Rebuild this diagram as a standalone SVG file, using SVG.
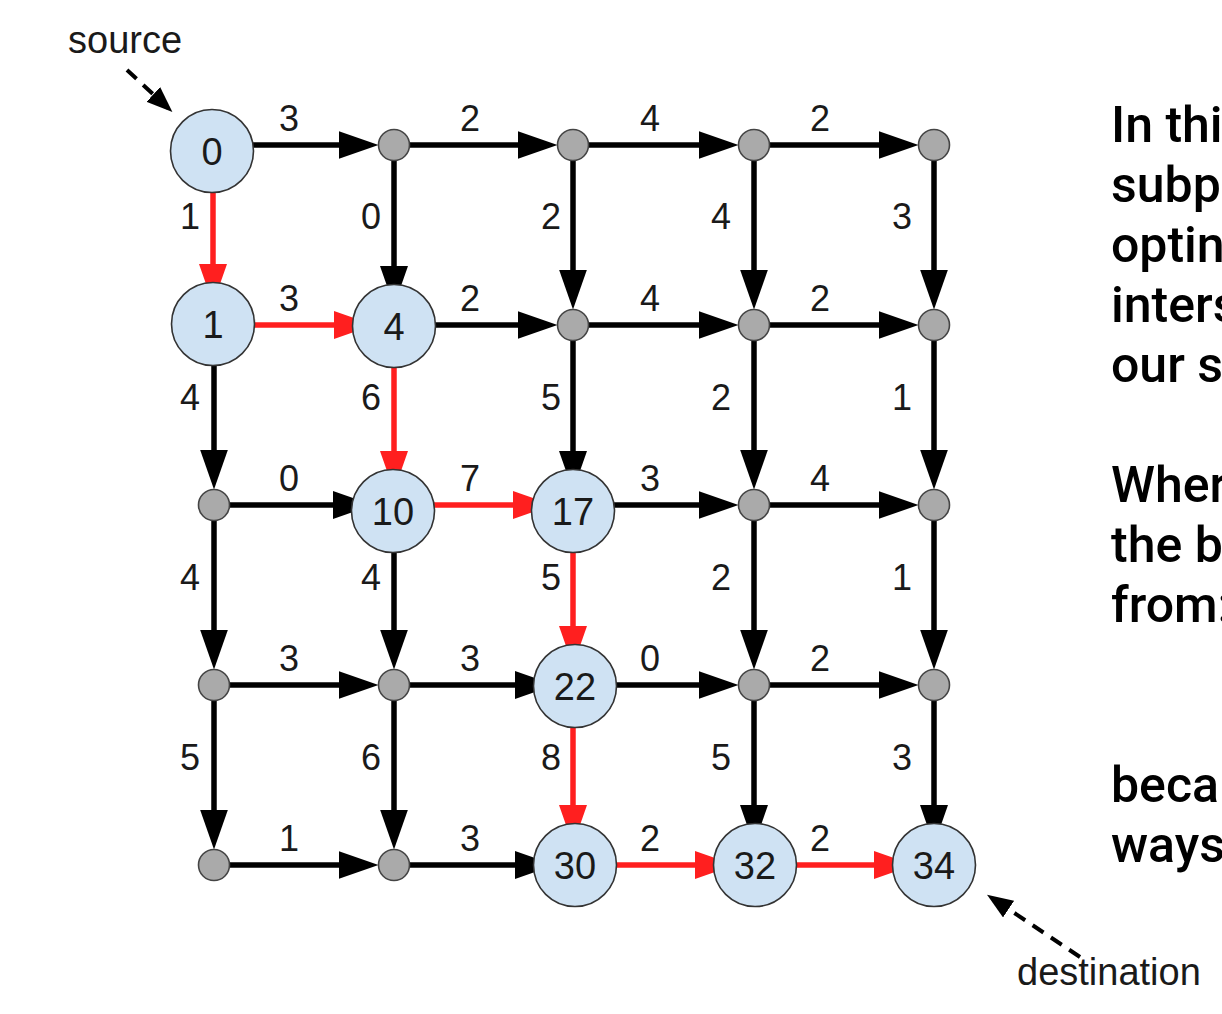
<svg xmlns="http://www.w3.org/2000/svg" width="1222" height="1014" viewBox="0 0 1222 1014">
<style>
.e{stroke:#000;stroke-width:5.5;fill:none;marker-end:url(#ab)}
.r{stroke:#ff1f1f;stroke-width:5.5;fill:none;marker-end:url(#ar)}
.d{stroke:#000;stroke-width:4;fill:none;stroke-dasharray:13 9;marker-end:url(#ad)}
.big{fill:#cfe2f3;stroke:#333;stroke-width:1.6}
.sm{fill:#aaaaaa;stroke:#444;stroke-width:1.6}
.nl{font-family:"Liberation Sans",Arial,sans-serif;font-size:38px;text-anchor:middle;fill:#1a1a1a}
.el{font-family:"Liberation Sans",Arial,sans-serif;font-size:36px;text-anchor:middle;fill:#1a1a1a}
.lb{font-family:"Liberation Sans",Arial,sans-serif;font-size:38px;fill:#1a1a1a}
.tx{font-family:Roboto,"Noto Sans",sans-serif;font-weight:500;font-size:50px;fill:#000}
</style>
<defs>
<marker id="ab" viewBox="0 0 40 28" refX="30" refY="14" markerWidth="40" markerHeight="28" markerUnits="userSpaceOnUse" orient="auto"><path d="M0,0 L40,14 L0,28 Z" fill="#000"/></marker>
<marker id="ar" viewBox="0 0 40 28" refX="30" refY="14" markerWidth="40" markerHeight="28" markerUnits="userSpaceOnUse" orient="auto"><path d="M0,0 L40,14 L0,28 Z" fill="#ff1f1f"/></marker>
<marker id="ad" viewBox="0 0 26 20" refX="20" refY="10" markerWidth="26" markerHeight="20" markerUnits="userSpaceOnUse" orient="auto"><path d="M0,0 L26,10 L0,20 Z" fill="#000"/></marker>
</defs>
<rect width="1222" height="1014" fill="#fff"/>
<g id="connectors">
<path class="e" d="M214,145 H368.5"/>
<path class="e" d="M394,145 H547.5"/>
<path class="e" d="M573,145 H728.5"/>
<path class="e" d="M754,145 H908.5"/>
<path class="r" d="M214,325 H364"/>
<path class="e" d="M394,325 H547.5"/>
<path class="e" d="M573,325 H728.5"/>
<path class="e" d="M754,325 H908.5"/>
<path class="e" d="M214,505 H363"/>
<path class="r" d="M394,505 H543"/>
<path class="e" d="M573,505 H728.5"/>
<path class="e" d="M754,505 H908.5"/>
<path class="e" d="M214,685 H368.5"/>
<path class="e" d="M394,685 H545"/>
<path class="e" d="M573,685 H728.5"/>
<path class="e" d="M754,685 H908.5"/>
<path class="e" d="M214,865 H368.5"/>
<path class="e" d="M394,865 H545"/>
<path class="r" d="M573,865 H725"/>
<path class="r" d="M754,865 H904"/>
<path class="r" d="M213,145 V294"/>
<path class="e" d="M394,145 V296"/>
<path class="e" d="M573,145 V299.5"/>
<path class="e" d="M754,145 V299.5"/>
<path class="e" d="M934,145 V299.5"/>
<path class="e" d="M214,325 V479.5"/>
<path class="r" d="M394,325 V481"/>
<path class="e" d="M573,325 V481"/>
<path class="e" d="M754,325 V479.5"/>
<path class="e" d="M934,325 V479.5"/>
<path class="e" d="M214,505 V659.5"/>
<path class="e" d="M394,505 V659.5"/>
<path class="r" d="M573,505 V656"/>
<path class="e" d="M754,505 V659.5"/>
<path class="e" d="M934,505 V659.5"/>
<path class="e" d="M214,685 V839.5"/>
<path class="e" d="M394,685 V839.5"/>
<path class="r" d="M573,685 V835"/>
<path class="e" d="M754,685 V835"/>
<path class="e" d="M934,685 V835"/>
<path class="d" d="M127,70 L168,108"/>
<path class="d" d="M1080,957 L992,898"/>
</g>
<g id="edge-labels">
<text class="el" x="289" y="131">3</text>
<text class="el" x="470" y="131">2</text>
<text class="el" x="650" y="131">4</text>
<text class="el" x="820" y="131">2</text>
<text class="el" x="289" y="311">3</text>
<text class="el" x="470" y="311">2</text>
<text class="el" x="650" y="311">4</text>
<text class="el" x="820" y="311">2</text>
<text class="el" x="289" y="491">0</text>
<text class="el" x="470" y="491">7</text>
<text class="el" x="650" y="491">3</text>
<text class="el" x="820" y="491">4</text>
<text class="el" x="289" y="671">3</text>
<text class="el" x="470" y="671">3</text>
<text class="el" x="650" y="671">0</text>
<text class="el" x="820" y="671">2</text>
<text class="el" x="289" y="851">1</text>
<text class="el" x="470" y="851">3</text>
<text class="el" x="650" y="851">2</text>
<text class="el" x="820" y="851">2</text>
<text class="el" x="190" y="229">1</text>
<text class="el" x="371" y="229">0</text>
<text class="el" x="551" y="229">2</text>
<text class="el" x="721" y="229">4</text>
<text class="el" x="902" y="229">3</text>
<text class="el" x="190" y="410">4</text>
<text class="el" x="371" y="410">6</text>
<text class="el" x="551" y="410">5</text>
<text class="el" x="721" y="410">2</text>
<text class="el" x="902" y="410">1</text>
<text class="el" x="190" y="590">4</text>
<text class="el" x="371" y="590">4</text>
<text class="el" x="551" y="590">5</text>
<text class="el" x="721" y="590">2</text>
<text class="el" x="902" y="590">1</text>
<text class="el" x="190" y="770">5</text>
<text class="el" x="371" y="770">6</text>
<text class="el" x="551" y="770">8</text>
<text class="el" x="721" y="770">5</text>
<text class="el" x="902" y="770">3</text>
</g>
<g id="n-s01"><circle class="sm" cx="394" cy="145" r="15.5"/></g>
<g id="n-s02"><circle class="sm" cx="573" cy="145" r="15.5"/></g>
<g id="n-s03"><circle class="sm" cx="754" cy="145" r="15.5"/></g>
<g id="n-s04"><circle class="sm" cx="934" cy="145" r="15.5"/></g>
<g id="n-s12"><circle class="sm" cx="573" cy="325" r="15.5"/></g>
<g id="n-s13"><circle class="sm" cx="754" cy="325" r="15.5"/></g>
<g id="n-s14"><circle class="sm" cx="934" cy="325" r="15.5"/></g>
<g id="n-s20"><circle class="sm" cx="214" cy="505" r="15.5"/></g>
<g id="n-s23"><circle class="sm" cx="754" cy="505" r="15.5"/></g>
<g id="n-s24"><circle class="sm" cx="934" cy="505" r="15.5"/></g>
<g id="n-s30"><circle class="sm" cx="214" cy="685" r="15.5"/></g>
<g id="n-s31"><circle class="sm" cx="394" cy="685" r="15.5"/></g>
<g id="n-s33"><circle class="sm" cx="754" cy="685" r="15.5"/></g>
<g id="n-s34"><circle class="sm" cx="934" cy="685" r="15.5"/></g>
<g id="n-s40"><circle class="sm" cx="214" cy="865" r="15.5"/></g>
<g id="n-s41"><circle class="sm" cx="394" cy="865" r="15.5"/></g>
<g id="n0"><circle class="big" cx="212" cy="151" r="41.5"/><text class="nl" x="212" y="165">0</text></g>
<g id="n1"><circle class="big" cx="213" cy="324" r="41.5"/><text class="nl" x="213" y="338">1</text></g>
<g id="n4"><circle class="big" cx="394" cy="326" r="41.5"/><text class="nl" x="394" y="340">4</text></g>
<g id="n10"><circle class="big" cx="393" cy="511" r="41.5"/><text class="nl" x="393" y="525">10</text></g>
<g id="n17"><circle class="big" cx="573" cy="511" r="41.5"/><text class="nl" x="573" y="525">17</text></g>
<g id="n22"><circle class="big" cx="575" cy="686" r="41.5"/><text class="nl" x="575" y="700">22</text></g>
<g id="n30"><circle class="big" cx="575" cy="865" r="41.5"/><text class="nl" x="575" y="879">30</text></g>
<g id="n32"><circle class="big" cx="755" cy="865" r="41.5"/><text class="nl" x="755" y="879">32</text></g>
<g id="n34"><circle class="big" cx="934" cy="865" r="41.5"/><text class="nl" x="934" y="879">34</text></g>
<g id="labels">
<text class="lb" x="68" y="53">source</text>
<text class="lb" x="1017" y="985">destination</text>
</g>
<g id="side-text">
<text class="tx" x="1111" y="142">In thi</text>
<text class="tx" x="1111" y="202">subp</text>
<text class="tx" x="1111" y="262">optin</text>
<text class="tx" x="1111" y="322">inters</text>
<text class="tx" x="1111" y="382">our s</text>
<text class="tx" x="1111" y="502">Wher</text>
<text class="tx" x="1111" y="562">the b</text>
<text class="tx" x="1111" y="622">from:</text>
<text class="tx" x="1111" y="802">beca</text>
<text class="tx" x="1111" y="862">ways</text>
</g>
</svg>
